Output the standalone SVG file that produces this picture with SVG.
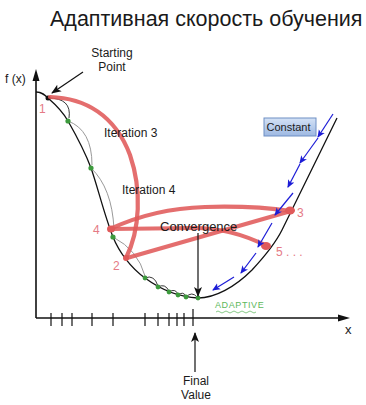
<svg xmlns="http://www.w3.org/2000/svg" width="366" height="405" viewBox="0 0 366 405">
<defs>
<style>
text{font-family:"Liberation Sans",Arial,sans-serif;fill:#1a1a1a}
.ax{stroke:#111;stroke-width:1.6;fill:none}
.tick{stroke:#111;stroke-width:1.2}
.curve{stroke:#111;stroke-width:1.3;fill:none}
.thin{stroke:#999;stroke-width:1;fill:none}
.small{stroke:#222;stroke-width:0.9;fill:none}
.red{stroke:#e05a5a;stroke-width:4.2;fill:none;stroke-linecap:round;opacity:0.88}
.redl{font-family:"Liberation Sans",sans-serif;fill:#e57a85;font-size:12px}
.blue{stroke:#1c1cd6;stroke-width:1.2;fill:none;marker-end:url(#bh)}
.dot{fill:#3d9a3d}
.lbl{font-size:12px}
</style>
<marker id="bh" markerWidth="8" markerHeight="8" refX="7" refY="4" orient="auto" markerUnits="userSpaceOnUse">
<path d="M0,0.5 L8,4 L0,7.5 L2,4 Z" fill="#1c1cd6"/>
</marker>
<marker id="ah" markerWidth="10" markerHeight="10" refX="9" refY="5" orient="auto" markerUnits="userSpaceOnUse">
<path d="M0,1 L10,5 L0,9 L2.5,5 Z" fill="#111"/>
</marker>
<linearGradient id="cg" x1="0" y1="0" x2="0" y2="1">
<stop offset="0" stop-color="#d4e2f6"/>
<stop offset="1" stop-color="#9db8e2"/>
</linearGradient>
</defs>
<rect width="366" height="405" fill="#fff"/>
<text x="50" y="26" font-size="21.5">Адаптивная скорость обучения</text>

<g id="axes">
<line class="ax" x1="36" y1="318" x2="36" y2="78"/>
<polygon points="36,69 32.5,81 39.5,81" fill="#111"/>
<line class="ax" x1="36" y1="318" x2="340" y2="318"/>
<polygon points="350,318 338,314.5 338,321.5" fill="#111"/>
<g class="tick">
<line x1="51" y1="313" x2="51" y2="326"/>
<line x1="62" y1="313" x2="62" y2="326"/>
<line x1="72" y1="313" x2="72" y2="326"/>
<line x1="92" y1="313" x2="92" y2="326"/>
<line x1="113" y1="313" x2="113" y2="326"/>
<line x1="145" y1="313" x2="145" y2="326"/>
<line x1="158" y1="313" x2="158" y2="326"/>
<line x1="169" y1="313" x2="169" y2="326"/>
<line x1="177" y1="313" x2="177" y2="326"/>
<line x1="184" y1="313" x2="184" y2="326"/>
<line x1="193" y1="309" x2="193" y2="326"/>
</g>
<text class="lbl" x="5" y="83">f (x)</text>
<text x="345" y="334" font-size="13">x</text>
</g>

<g id="cost-curve">
<path class="curve" d="M36,92 C42,92 45,95 48,98 C56,105 63,112 68,121 C76,135 85,152 91,168 C98,188 104,214 113,237 C119,252 131,268 145,278 C160,289 178,297 198,298 C215,298 235,287 252,270 C265,256 275,244 282,230 L337,118"/>
</g>

<g id="small-steps">
<path class="small" d="M48,98 Q72,98 69,118"/>
<path class="thin" d="M68,121 Q92,130 92,165"/>
<path class="thin" d="M91,168 Q112,188 114,229"/>
<path class="thin" d="M113,237 Q138,250 145,276"/>
<path class="small" d="M145,278 Q154,274 158,286"/>
<path class="small" d="M158,287 Q165,283 169,291"/>
<path class="small" d="M169,292 Q175,288 178,294"/>
<path class="small" d="M178,295 Q183,291 186,296"/>
<path class="small" d="M186,297 Q192,291 197,297"/>
<circle cx="48" cy="98" r="2.5" fill="#111"/>
<circle class="dot" cx="68" cy="121" r="2.6"/>
<circle class="dot" cx="91" cy="168" r="2.6"/>
<circle class="dot" cx="113" cy="237" r="2.6"/>
<circle class="dot" cx="145" cy="278" r="2.4"/>
<circle class="dot" cx="158" cy="287" r="2.4"/>
<circle class="dot" cx="169" cy="292" r="2.4"/>
<circle class="dot" cx="178" cy="295" r="2.4"/>
<circle class="dot" cx="186" cy="297" r="2.4"/>
<circle class="dot" cx="198" cy="298" r="2.4"/>
</g>

<g id="large-steps">
<path class="red" d="M50,97 C85,98 115,115 130,155 C142,190 140,230 126,258"/>
<path class="red" d="M127,258 Q205,236 291,211"/>
<path class="red" d="M110,229 C140,215 170,208 205,207 C240,206 270,208 291,211"/>
<path class="red" d="M110,229 L195,228 C220,228 245,235 267,246"/>
<ellipse cx="290" cy="210.5" rx="5" ry="4" fill="#e05a5a"/>
<ellipse cx="266" cy="246" rx="5" ry="4" fill="#e05a5a"/>
<ellipse cx="111" cy="229" rx="4" ry="3.5" fill="#e05a5a"/>
<ellipse cx="126" cy="258" rx="3" ry="3" fill="#e05a5a"/>
<text class="redl" x="39" y="113">1</text>
<text class="redl" x="113" y="270">2</text>
<text class="redl" x="297" y="217">3</text>
<text class="redl" x="93" y="234">4</text>
<text class="redl" x="276" y="256">5 . . .</text>
<text class="lbl" x="104" y="137">Iteration 3</text>
<text class="lbl" x="122" y="194">Iteration 4</text>
</g>

<g id="constant">
<rect x="264" y="118" width="52" height="18" fill="url(#cg)" stroke="#6f8fc4" stroke-width="1"/>
<text x="266.5" y="131" font-size="11">Constant</text>
<path class="blue" d="M333,114 L318,137"/>
<path class="blue" d="M318,138 L300,163"/>
<path class="blue" d="M300,164 L288,187"/>
<path class="blue" d="M293,193 L275,215"/>
<path class="blue" d="M272,223 L258,247"/>
<path class="blue" d="M256,253 L241,273"/>
<path class="blue" d="M234,277 L213,290"/>
</g>

<g id="annotations">
<line x1="83" y1="72" x2="52" y2="93" stroke="#111" stroke-width="1.2" marker-end="url(#ah)"/>
<text class="lbl" x="112" y="57" text-anchor="middle">Starting</text>
<text class="lbl" x="112" y="71" text-anchor="middle">Point</text>
<text x="160" y="231" font-size="13">Convergence</text>
<line x1="198" y1="233" x2="198" y2="296" stroke="#111" stroke-width="1.2" marker-end="url(#ah)"/>
<line x1="195" y1="372" x2="195" y2="333" stroke="#111" stroke-width="1.2" marker-end="url(#ah)"/>
<text class="lbl" x="196" y="385" text-anchor="middle">Final</text>
<text class="lbl" x="196" y="399" text-anchor="middle">Value</text>
<text x="215" y="308" font-size="9" fill="#5cb85c" style="fill:#5cb85c" letter-spacing="0.6">ADAPTIVE</text>
<path d="M216,312 q2,-2 4,0 t4,0 t4,0 t4,0 t4,0 t4,0 t4,0 t4,0 t4,0 t4,0" stroke="#7cc47c" stroke-width="0.9" fill="none"/>
</g>
</svg>
